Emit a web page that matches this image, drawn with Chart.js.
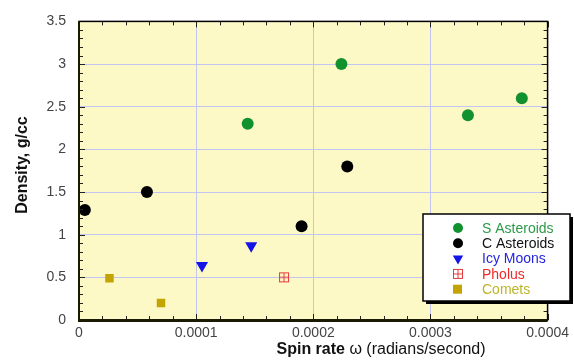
<!DOCTYPE html>
<html>
<head>
<meta charset="UTF-8">
<title>Density vs spin rate</title>
<script src="https://cdn.jsdelivr.net/npm/chart.js@4.4.1/dist/chart.umd.min.js"></script>
<style>
  html, body { margin: 0; padding: 0; background: #fff; }
  canvas { display: block; }
</style>
</head>
<body>
<canvas id="chart-area" width="574" height="360"></canvas>
<script>
// data
var seriesNames = ["S Asteroids", "C Asteroids", "Icy Moons", "Pholus", "Comets"];
var sAsteroidsX = [0.000144, 0.000224, 0.000332, 0.000378];
var sAsteroidsY = [2.3, 3.0, 2.4, 2.6];
var cAsteroidsX = [0.000005, 0.000058, 0.000190, 0.000229];
var cAsteroidsY = [1.29, 1.5, 1.1, 1.8];
var icyMoonsX = [0.000105, 0.000147];
var icyMoonsY = [0.64, 0.87];
var pholusX = [0.000175];
var pholusY = [0.5];
var cometsX = [0.000026, 0.000070];
var cometsY = [0.49, 0.2];
var xTicks = [0, 0.0001, 0.0002, 0.0003, 0.0004];
var yTicks = [0, 0.5, 1, 1.5, 2, 2.5, 3, 3.5];

function pts(xs, ys) {
    return xs.map(function (x, i) { return { x: x, y: ys[i] }; });
}

// little red square with a cross for Pholus
function pholusIcon() {
    var c = document.createElement('canvas');
    c.width = 12; c.height = 12;
    var g = c.getContext('2d');
    g.strokeStyle = '#e43a3a';
    g.lineWidth = 1;
    g.strokeRect(1.5, 1.5, 9, 9);
    g.beginPath();
    g.moveTo(6, 1.5); g.lineTo(6, 10.5);
    g.moveTo(1.5, 6); g.lineTo(10.5, 6);
    g.stroke();
    return c;
}
var pholusImg = pholusIcon();

var textColors = ['#2e9a48', '#111111', '#2424e0', '#f02828', '#bdb428'];

var plotDecor = {
    id: 'plotDecor',
    beforeDraw: function (chart) {
        var a = chart.chartArea, ctx = chart.ctx;
        ctx.save();
        ctx.fillStyle = '#fdf9c6';
        ctx.fillRect(a.left, a.top, a.right - a.left, a.bottom - a.top);
        ctx.restore();
    },
    afterDatasetsDraw: function (chart) {
        var a = chart.chartArea, ctx = chart.ctx;
        var xs = chart.scales.x, ys = chart.scales.y;
        ctx.save();
        ctx.strokeStyle = '#222';
        ctx.lineWidth = 1;
        ctx.beginPath();
        // minor and major ticks, inward on all sides
        for (var i = 0; i <= 20; i++) {
            var px = Math.round(xs.getPixelForValue(i * 0.00002)) + 0.5;
            var len = (i % 5 === 0) ? 6 : 4;
            ctx.moveTo(px, a.bottom); ctx.lineTo(px, a.bottom - len);
            ctx.moveTo(px, a.top); ctx.lineTo(px, a.top + len);
        }
        for (var j = 0; j <= 35; j++) {
            var py = Math.round(ys.getPixelForValue(j * 0.1)) + 0.5;
            var l2 = (j % 5 === 0) ? 6 : 4;
            ctx.moveTo(a.left, py); ctx.lineTo(a.left + l2, py);
            ctx.moveTo(a.right, py); ctx.lineTo(a.right - l2, py);
        }
        ctx.stroke();
        // frame
        ctx.strokeStyle = '#000';
        ctx.lineWidth = 1.5;
        ctx.strokeRect(a.left, a.top, a.right - a.left, a.bottom - a.top);
        ctx.lineWidth = 3;
        ctx.strokeStyle = '#1a1a00';
        ctx.beginPath();
        ctx.moveTo(a.left - 1, a.bottom + 0.5); ctx.lineTo(a.right, a.bottom + 0.5);
        ctx.stroke();
        ctx.lineWidth = 2;
        ctx.beginPath();
        ctx.moveTo(a.left, a.top); ctx.lineTo(a.left, a.bottom);
        ctx.stroke();

        // legend box
        var bx = 423, by = 214, bw = 147, bh = 87;
        ctx.fillStyle = '#000';
        ctx.fillRect(bx + 3, by + 3, bw, bh);
        ctx.fillStyle = '#fff';
        ctx.fillRect(bx, by, bw, bh);
        ctx.strokeStyle = '#000';
        ctx.lineWidth = 1.5;
        ctx.strokeRect(bx, by, bw, bh);
        ctx.font = '14px "Liberation Sans", Arial, sans-serif';
        ctx.textBaseline = 'middle';
        ctx.textAlign = 'left';
        chart.data.datasets.forEach(function (ds, k) {
            var yy = 228 + k * 15.3;
            ctx.fillStyle = ds.backgroundColor;
            ctx.strokeStyle = ds.backgroundColor;
            if (k === 4) {
                ctx.fillRect(453, yy - 4.5, 9, 9);
            } else if (k < 2) {
                ctx.beginPath();
                ctx.arc(458, yy, 5, 0, Math.PI * 2);
                ctx.fill();
            } else {
                Chart.helpers.drawPoint(ctx, {
                    pointStyle: ds.pointStyle,
                    radius: 6,
                    rotation: ds.pointRotation || 0,
                    borderWidth: 0
                }, 458, yy);
            }
            ctx.fillStyle = textColors[k];
            ctx.fillText(ds.label, 482, yy + 1);
        });

        // axis titles
        ctx.fillStyle = '#111';
        ctx.textBaseline = 'alphabetic';
        ctx.font = 'bold 16px "Liberation Sans", Arial, sans-serif';
        var t1 = 'Spin rate ';
        var w1 = ctx.measureText(t1).width;
        ctx.font = '16px "Liberation Sans", Arial, sans-serif';
        var t2 = '\u03c9 (radians/second)';
        var w2 = ctx.measureText(t2).width;
        var sx = 381 - (w1 + w2) / 2;
        ctx.font = 'bold 16px "Liberation Sans", Arial, sans-serif';
        ctx.fillText(t1, sx, 354);
        ctx.font = '16px "Liberation Sans", Arial, sans-serif';
        ctx.fillText(t2, sx + w1, 354);

        ctx.translate(27, 165);
        ctx.rotate(-Math.PI / 2);
        ctx.textAlign = 'center';
        ctx.font = 'bold 16px "Liberation Sans", Arial, sans-serif';
        ctx.fillText('Density, g/cc', 0, 0);
        ctx.restore();
    }
};

var config = {
    type: 'scatter',
    data: {
        datasets: [{
            label: seriesNames[0],
            data: pts(sAsteroidsX, sAsteroidsY),
            backgroundColor: '#12922e',
            pointStyle: 'circle',
            pointRadius: 6
        }, {
            label: seriesNames[1],
            data: pts(cAsteroidsX, cAsteroidsY),
            backgroundColor: '#000000',
            pointStyle: 'circle',
            pointRadius: 6
        }, {
            label: seriesNames[2],
            data: pts(icyMoonsX, icyMoonsY),
            backgroundColor: '#1414e6',
            borderColor: '#1414e6',
            pointStyle: 'triangle',
            pointRotation: 180,
            pointRadius: 7
        }, {
            label: seriesNames[3],
            data: pts(pholusX, pholusY),
            backgroundColor: '#e43a3a',
            pointStyle: pholusImg,
            pointRadius: 6
        }, {
            label: seriesNames[4],
            data: pts(cometsX, cometsY),
            backgroundColor: '#c4a400',
            pointStyle: 'rect',
            pointRadius: 6
        }]
    },
    options: {
        responsive: false,
        animation: false,
        layout: { padding: { left: 0, right: 24, top: 16, bottom: 0 } },
        elements: { point: { borderWidth: 0 } },
        plugins: {
            legend: { display: false },
            tooltip: { enabled: false }
        },
        scales: {
            x: {
                type: 'linear',
                min: 0,
                max: 0.0004,
                afterBuildTicks: function (s) {
                    s.ticks = xTicks.map(function (v) { return { value: v }; });
                },
                afterFit: function (s) { s.height = 40; },
                grid: { color: '#c4c4f2', lineWidth: 1, drawTicks: false },
                border: { display: false },
                ticks: {
                    padding: 5,
                    color: '#444',
                    maxRotation: 0,
                    font: { family: '"Liberation Sans", Arial, sans-serif', size: 14 },
                    callback: function (v) { return v === 0 ? '0' : v.toFixed(4); }
                }
            },
            y: {
                type: 'linear',
                min: 0,
                max: 3.5,
                afterBuildTicks: function (s) {
                    s.ticks = yTicks.map(function (v) { return { value: v }; });
                },
                afterFit: function (s) { s.width = 79; },
                grid: { color: '#c4c4f2', lineWidth: 1, drawTicks: false },
                border: { display: false },
                ticks: {
                    padding: 13,
                    color: '#444',
                    font: { family: '"Liberation Sans", Arial, sans-serif', size: 14 },
                    callback: function (v) { return String(v); }
                }
            }
        }
    },
    plugins: [plotDecor]
};

var ctx = document.getElementById("chart-area").getContext("2d");
window.myScatter = new Chart(ctx, config);
</script>
</body>
</html>
